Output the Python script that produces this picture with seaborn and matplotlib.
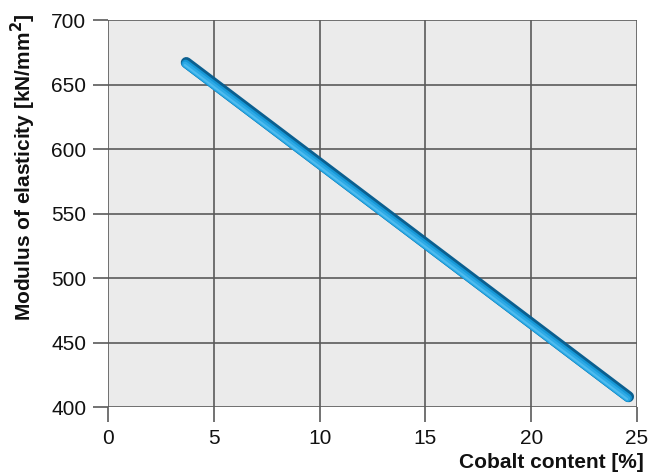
import matplotlib
matplotlib.use("Agg")
import matplotlib.pyplot as plt
import matplotlib.transforms as mtrans
import seaborn as sns
import pandas as pd

cobalt = [3.7, 24.6]
modulus = [667, 408]
xticks = [0, 5, 10, 15, 20, 25]
yticks = [400, 450, 500, 550, 600, 650, 700]

sns.set_theme(style="white")
plt.rcParams['font.family'] = ['Liberation Sans', 'DejaVu Sans']

df = pd.DataFrame({"cobalt": cobalt, "modulus": modulus})

fig = plt.figure(figsize=(6.48, 4.72), dpi=100)
ax = fig.add_axes([0.1667, 0.1377, 0.8163, 0.8199])
ax.set_facecolor("#ebebeb")

layers = [("#0b5f8f", 8.0, 0.0, 3), ("#1697d6", 6.0, -1.2, 4),
          ("#2eaae6", 4.0, -1.8, 5), ("#4fbcef", 1.5, -2.4, 6)]
for color, lw, dy, z in layers:
    n0 = len(ax.lines)
    sns.lineplot(data=df, x="cobalt", y="modulus", ax=ax, color=color,
                 linewidth=lw, solid_capstyle="round", zorder=z)
    for ln in ax.lines[n0:]:
        ln.set_transform(mtrans.offset_copy(ax.transData, fig=fig, x=dy * 0.6, y=dy, units="dots"))

ax.set_xlim(0, 25)
ax.set_ylim(400, 700)
ax.set_xticks(xticks)
ax.set_yticks(yticks)
ax.set_xticklabels([str(t) for t in xticks])
ax.set_yticklabels([str(t) for t in yticks])
ax.grid(True, color="#5a5a5a", linewidth=1.2)
ax.set_axisbelow(True)
for s in ax.spines.values():
    s.set_visible(False)
ax.tick_params(axis="both", length=11, width=1.2, color="#5a5a5a",
               labelsize=15, labelcolor="#111111", pad=4.5, direction="out",
               bottom=True, left=True)

ax.set_xlabel("")
ax.set_ylabel("")
fig.text(644 / 648, 1 - 462 / 472, "Cobalt content [%]", fontsize=15,
         fontweight="bold", color="#111111", ha="right", va="center")
fig.text(23 / 648, 1 - 167 / 472, "Modulus of elasticity [kN/mm$^\\mathbf{2}$]",
         fontsize=15, fontweight="bold", color="#111111", ha="center",
         va="center", rotation=90)

fig.savefig("out.png", dpi=100)
